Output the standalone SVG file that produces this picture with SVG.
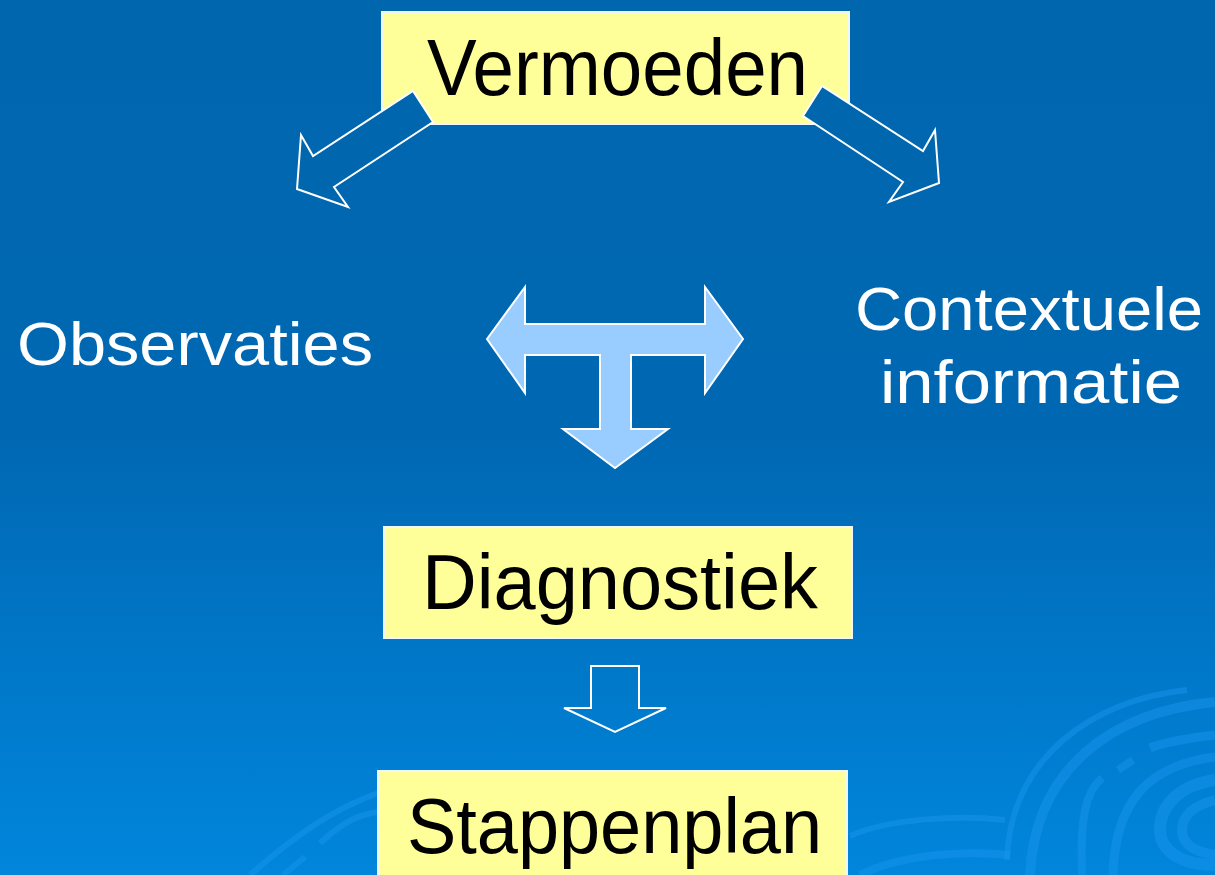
<svg xmlns="http://www.w3.org/2000/svg" width="1215" height="875" viewBox="0 0 1215 875">
  <defs>
    <linearGradient id="bg" x1="0" y1="0" x2="0" y2="1">
      <stop offset="0" stop-color="#0066ae"/>
      <stop offset="0.5" stop-color="#0068b3"/>
      <stop offset="1" stop-color="#0086dc"/>
    </linearGradient>
    <style>
      .box { fill: #ffff99; stroke: #eef6ff; stroke-width: 2; }
      .dark { font-family: "Liberation Sans", Arial, sans-serif; fill: #000000; }
      .light { font-family: "Liberation Sans", Arial, sans-serif; fill: #ffffff; }
      .hollow { fill: #0066ae; stroke: #ffffff; stroke-width: 2; stroke-linejoin: miter; }
      .open { fill: none; stroke: #ffffff; stroke-width: 2; }
      .tee { fill: #99ccff; stroke: #ffffff; stroke-width: 2; }
      .swirl { fill: none; stroke: #1a96f0; stroke-opacity: 0.45; }
    </style>
  </defs>

  <rect x="0" y="0" width="1215" height="875" fill="url(#bg)"/>

  <g id="background-swirl">
    <path class="swirl" stroke-width="6" d="M1187,690 C1090,700 1010,760 1007,860"/>
    <path class="swirl" stroke-width="10" d="M1215,702 C1110,712 1035,770 1030,875"/>
    <path class="swirl" stroke-width="9" d="M1215,735 C1185,738 1160,744 1150,748"/>
    <path class="swirl" stroke-width="8" d="M1133,760 L1118,770"/>
    <path class="swirl" stroke-width="8" d="M1102,778 C1085,792 1080,820 1082,875"/>
    <path class="swirl" stroke-width="9" d="M1215,757 C1150,765 1115,800 1113,875"/>
    <path class="swirl" stroke-width="12" d="M1215,780 C1180,785 1160,805 1160,830 C1160,850 1180,865 1215,865"/>
    <path class="swirl" stroke-width="10" d="M1215,800 C1195,805 1182,815 1182,830 C1182,845 1195,852 1215,855"/>
    <path class="swirl" stroke-width="6" d="M850,836 C890,818 960,815 1005,820"/>
    <path class="swirl" stroke-width="8" d="M860,875 C900,855 960,850 1010,855"/>
    <path class="swirl" stroke-width="6" d="M250,875 C290,840 330,810 378,793"/>
    <path class="swirl" stroke-width="6" d="M320,843 C340,825 355,815 378,812"/>
    <path class="swirl" stroke-width="6" d="M283,875 L305,857"/>
  </g>

  <g id="node-vermoeden">
    <rect class="box" x="382" y="12" width="467" height="112"/>
    <text class="dark" x="427" y="95" font-size="80" textLength="381" lengthAdjust="spacingAndGlyphs">Vermoeden</text>
  </g>

  <g id="node-observaties">
    <text class="light" x="17" y="365" font-size="61" textLength="356" lengthAdjust="spacingAndGlyphs">Observaties</text>
  </g>

  <g id="node-contextuele">
    <text class="light" x="855" y="330" font-size="62" textLength="348" lengthAdjust="spacingAndGlyphs">Contextuele</text>
    <text class="light" x="880" y="403" font-size="62" textLength="302" lengthAdjust="spacingAndGlyphs">informatie</text>
  </g>

  <g id="node-diagnostiek">
    <rect class="box" x="384" y="527" width="468" height="111"/>
    <text class="dark" x="422" y="609" font-size="78" textLength="396" lengthAdjust="spacingAndGlyphs">Diagnostiek</text>
  </g>

  <g id="node-stappenplan">
    <rect class="box" x="378" y="771" width="469" height="120"/>
    <text class="dark" x="407" y="853" font-size="77" textLength="415" lengthAdjust="spacingAndGlyphs">Stappenplan</text>
  </g>

  <g id="connectors">
    <polygon id="arrow-left" class="hollow" points="413,91 433,122 334,187 348,207 297,189 301,135 313,156"/>
    <polygon id="arrow-right" class="hollow" points="822,86 803,116 903,182 889,202 939,183 935,130 923,151"/>
    <polygon id="arrow-tee" class="tee" points="487,339 525,287 525,324 705,324 705,287 743,339 705,393 705,355 631,355 631,429 668,429 615,468 563,429 600,429 600,355 525,355 525,393"/>
    <polygon id="arrow-down" class="open" points="591,666 639,666 639,708 666,708 615,732 564,708 591,708"/>
  </g>
</svg>
